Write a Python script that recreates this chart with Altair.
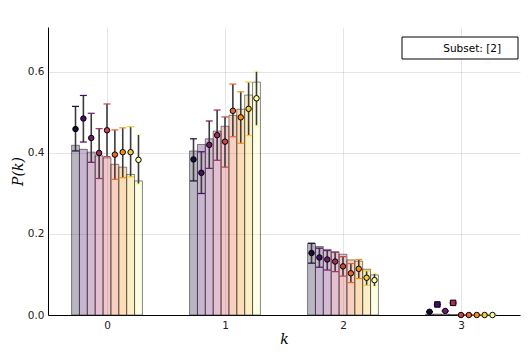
import altair as alt
import pandas as pd

# ---- data ----
ks = [0, 1, 2, 3]
series = list(range(9))
legend_label = "Subset: [2]"

bar_k0 = [0.419, 0.409, 0.402, 0.393, 0.388, 0.372, 0.365, 0.347, 0.331]
bar_k1 = [0.405, 0.421, 0.435, 0.454, 0.466, 0.493, 0.508, 0.543, 0.575]
bar_k2 = [0.177, 0.169, 0.162, 0.156, 0.150, 0.136, 0.133, 0.113, 0.099]
bar_k3 = [0.002, 0.002, 0.002, 0.001, 0.001, 0.0, 0.0, 0.0, 0.0]

pt_k0 = [0.459, 0.485, 0.437, 0.400, 0.456, 0.396, 0.402, 0.402, 0.383]
lo_k0 = [0.405, 0.427, 0.377, 0.337, 0.391, 0.335, 0.339, 0.341, 0.323]
hi_k0 = [0.515, 0.542, 0.498, 0.460, 0.521, 0.457, 0.462, 0.465, 0.446]

pt_k1 = [0.384, 0.351, 0.420, 0.444, 0.428, 0.504, 0.488, 0.509, 0.535]
lo_k1 = [0.331, 0.300, 0.362, 0.382, 0.365, 0.440, 0.424, 0.443, 0.467]
hi_k1 = [0.435, 0.403, 0.479, 0.506, 0.489, 0.570, 0.551, 0.575, 0.602]

pt_k2 = [0.153, 0.142, 0.137, 0.132, 0.120, 0.103, 0.114, 0.092, 0.086]
lo_k2 = [0.128, 0.118, 0.111, 0.107, 0.096, 0.080, 0.090, 0.073, 0.070]
hi_k2 = [0.177, 0.165, 0.159, 0.155, 0.144, 0.127, 0.137, 0.109, 0.103]

pt_k3 = [0.008, 0.026, 0.010, 0.030, 0.0, 0.0, 0.0, 0.0, 0.0]
lo_k3 = [0.008, 0.026, 0.010, 0.030, 0.0, 0.0, 0.0, 0.0, 0.0]
hi_k3 = [0.008, 0.026, 0.010, 0.030, 0.0, 0.0, 0.0, 0.0, 0.0]
shape_k3 = ["circle", "square", "circle", "square", "circle",
            "circle", "circle", "circle", "circle"]

palette = ["#160b39", "#470b6a", "#72196e", "#a32c61", "#cc4248",
           "#ea632a", "#f98e09", "#f5cb3a", "#fcffa4"]

bars = [bar_k0, bar_k1, bar_k2, bar_k3]
pts = [pt_k0, pt_k1, pt_k2, pt_k3]
los = [lo_k0, lo_k1, lo_k2, lo_k3]
his = [hi_k0, hi_k1, hi_k2, hi_k3]
shapes = [["circle"] * 9, ["circle"] * 9, ["circle"] * 9, shape_k3]

rows = []
for ki, k in enumerate(ks):
    for s in series:
        rows.append(dict(k=k, s=s, bar=bars[ki][s], pt=pts[ki][s],
                         lo=los[ki][s], hi=his[ki][s], shape=shapes[ki][s]))
df = pd.DataFrame(rows)

W = 0.0667  # bar width in k units

xscale = alt.Scale(domain=[-0.5, 3.5], nice=False, zero=False)
yscale = alt.Scale(domain=[0, 0.711], nice=False, zero=False)
cscale = alt.Scale(domain=series, range=palette)

xaxis = alt.Axis(values=ks, format="d", title="k", grid=True, ticks=False,
                 labelPadding=5, titleFont="DejaVu Serif", titleFontStyle="italic",
                 titleFontWeight="normal", titleFontSize=14, titleY=28,
                 titleBaseline="alphabetic")
yaxis = alt.Axis(values=[0, 0.2, 0.4, 0.6], format=".1f", title="P(k)",
                 grid=True, ticks=False, labelPadding=4,
                 titleFont="DejaVu Serif", titleFontStyle="italic",
                 titleFontWeight="normal", titleFontSize=14, titleX=-23,
                 titleBaseline="bottom")

base = alt.Chart(df).transform_calculate(
    xc="datum.k + (datum.s - 4) * %f" % W,
    x0="datum.k + (datum.s - 4.5) * %f" % W,
    x1="datum.k + (datum.s - 3.5) * %f" % W,
)

bar_layer = base.mark_bar(fillOpacity=0.3, stroke="#222", strokeOpacity=0.55,
                          strokeWidth=1).encode(
    x=alt.X("x0:Q", scale=xscale, axis=xaxis),
    x2="x1:Q",
    y=alt.Y("bar:Q", scale=yscale, axis=yaxis),
    y2=alt.datum(0),
    color=alt.Color("s:N", scale=cscale, legend=None),
)

rule_layer = base.mark_rule(color="#3a3a3a", strokeWidth=1.6).encode(
    x="xc:Q", y="lo:Q", y2="hi:Q",
)

cap_lo = base.mark_tick(orient="horizontal", size=7, thickness=1.2, opacity=1).encode(
    x="xc:Q", y="lo:Q", color=alt.Color("s:N", scale=cscale, legend=None),
)
cap_hi = base.mark_tick(orient="horizontal", size=7, thickness=1.2, opacity=1).encode(
    x="xc:Q", y="hi:Q", color=alt.Color("s:N", scale=cscale, legend=None),
)

point_layer = base.mark_point(filled=True, size=30, stroke="black",
                              strokeWidth=1, opacity=1).encode(
    x="xc:Q", y="pt:Q",
    fill=alt.Fill("s:N", scale=cscale, legend=None),
    shape=alt.Shape("shape:N", scale=alt.Scale(domain=["circle", "square"],
                                               range=["circle", "square"]),
                    legend=None),
)

leg_data = alt.Data(values=[{"label": legend_label}])
leg_box = alt.Chart(leg_data).mark_rect(fill="white", stroke="black",
                                        strokeWidth=1).encode(
    x=alt.value(354), x2=alt.value(470), y=alt.value(10), y2=alt.value(32),
)
leg_text = alt.Chart(leg_data).mark_text(align="right", baseline="middle",
                                         font="DejaVu Sans", fontSize=10.5,
                                         color="black").encode(
    x=alt.value(453), y=alt.value(21.5), text="label:N",
)

chart = alt.layer(bar_layer, rule_layer, cap_lo, cap_hi, point_layer,
                  leg_box, leg_text).properties(
    width=472, height=288,
    autosize=alt.AutoSizeParams(type="none"),
    padding={"left": 40, "top": 19, "right": 4, "bottom": 31},
).configure_view(stroke=None).configure_axis(
    labelFont="DejaVu Sans", labelFontSize=10.5, labelColor="#222",
    domainColor="black", domainWidth=1, gridColor="black", gridOpacity=0.1,
    gridWidth=1, titleColor="black",
).configure_axisY(domain=True).configure_axisX(domain=True)

chart.save("out.html", embed_options={"renderer": "svg", "actions": False})
